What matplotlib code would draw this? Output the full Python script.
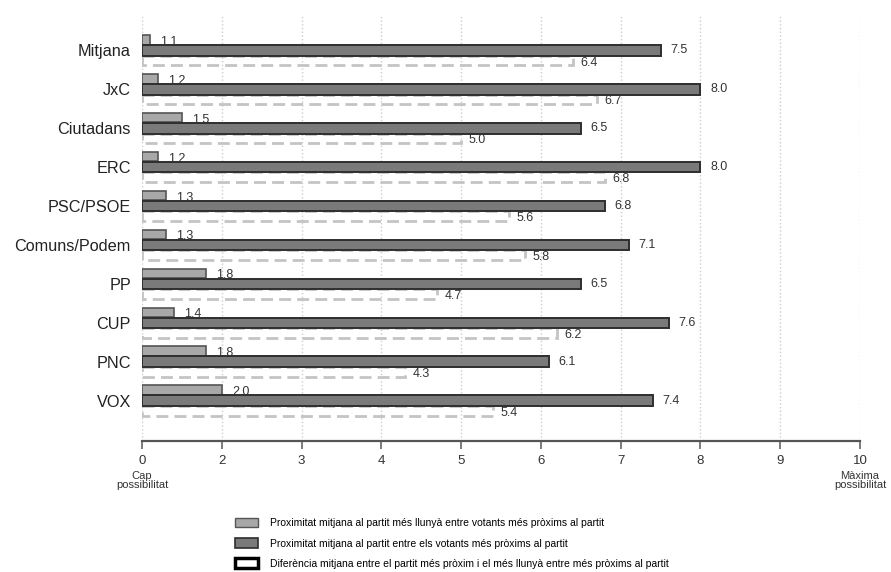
import numpy as np
import matplotlib
matplotlib.use("Agg")
import matplotlib.pyplot as plt
from matplotlib.patches import Patch

plt.rcParams['font.family'] = ['Liberation Sans', 'DejaVu Sans']

partits = ['Mitjana', 'JxC', 'Ciutadans', 'ERC', 'PSC/PSOE', 'Comuns/Podem',
           'PP', 'CUP', 'PNC', 'VOX']
llunya = [1.1, 1.2, 1.5, 1.2, 1.3, 1.3, 1.8, 1.4, 1.8, 2.0]
proxim = [7.5, 8.0, 6.5, 8.0, 6.8, 7.1, 6.5, 7.6, 6.1, 7.4]
diferencia = [6.4, 6.7, 5.0, 6.8, 5.6, 5.8, 4.7, 6.2, 4.3, 5.4]
ticks = [1, 2, 3, 4, 5, 6, 7, 8, 9, 10]
tick_labels = ['0', '2', '3', '4', '5', '6', '7', '8', '9', '10']

llegenda = ['Proximitat mitjana al partit més llunyà entre votants més pròxims al partit',
            'Proximitat mitjana al partit entre els votants més pròxims al partit',
            'Diferència mitjana entre el partit més pròxim i el més llunyà entre més pròxims al partit']

base = 1  # l'eix comença aquí
c_clar = '#a8a8a8'
c_fosc = '#7a7a7a'
c_dif = '#c4c4c4'
c_text = '#333333'

fig = plt.figure(figsize=(8.91, 5.72), dpi=100)
ax = fig.add_axes([142/891, 1-441/572, (860-142)/891, (441-15)/572])

y = np.arange(len(partits))
a = np.array(llunya)
b = np.array(proxim)
d = np.array(diferencia)

ax.barh(y + 0.26, d - base, left=base, height=0.25, fill=False, edgecolor=c_dif,
        linewidth=2, linestyle=(0, (4.3, 2.2)), zorder=2)
ax.barh(y - 0.27, a - base, left=base, height=0.24, color=c_clar,
        edgecolor='#555555', linewidth=1.2, zorder=3)
ax.barh(y, b - base, left=base, height=0.27, color=c_fosc,
        edgecolor='#2e2e2e', linewidth=1.4, zorder=4)

for i in range(len(partits)):
    ax.annotate(f'{a[i]:.1f}', (a[i], y[i] - 0.22), xytext=(7.5, 0), textcoords='offset points',
                va='center', ha='left', fontsize=9, color=c_text, zorder=5)
    ax.annotate(f'{b[i]:.1f}', (b[i], y[i]), xytext=(7, 0), textcoords='offset points',
                va='center', ha='left', fontsize=9, color=c_text, zorder=5)
    ax.annotate(f'{d[i]:.1f}', (d[i], y[i] + 0.31), xytext=(5.5, 0), textcoords='offset points',
                va='center', ha='left', fontsize=9, color=c_text, zorder=5)

ax.set_xlim(base, 10)
ax.set_ylim(len(partits) - 1 + 1.04, -(50.5 - 15) / 38.9)
ax.set_yticks(y)
ax.set_yticklabels(partits, fontsize=11.7, color='#222222')
ax.tick_params(axis='y', length=0, pad=8)
ax.set_xticks(ticks)
ax.set_xticklabels(tick_labels, fontsize=9.5, color=c_text)
ax.tick_params(axis='x', length=5.5, width=1.2, color='#666666', pad=4.5)

for s in ['left', 'top', 'right']:
    ax.spines[s].set_visible(False)
ax.spines['bottom'].set_color('#555555')
ax.spines['bottom'].set_linewidth(1.6)

ax.grid(axis='x', linestyle=':', color='#cccccc', linewidth=1)
ax.set_axisbelow(True)

ax.annotate('Cap\npossibilitat', (1, 0), xycoords=('data', 'axes fraction'),
            xytext=(0, -21.5), textcoords='offset points', ha='center', va='top',
            fontsize=8, color=c_text, linespacing=0.95)
ax.annotate('Màxima\npossibilitat', (10, 0), xycoords=('data', 'axes fraction'),
            xytext=(0, -21.5), textcoords='offset points', ha='center', va='top',
            fontsize=8, color=c_text, linespacing=0.95)

handles = [Patch(facecolor=c_clar, edgecolor='#555555', linewidth=1),
           Patch(facecolor=c_fosc, edgecolor='#2e2e2e', linewidth=1.2),
           Patch(facecolor='white', edgecolor='black', linewidth=2.5)]
fig.legend(handles, llegenda, loc='upper left', bbox_to_anchor=(231/891, 1-514/572),
           frameon=False, fontsize=7.5, handlelength=2.2, handleheight=1.0,
           handletextpad=1.1, labelspacing=0.95, borderaxespad=0)

fig.savefig('out.png', dpi=100)
